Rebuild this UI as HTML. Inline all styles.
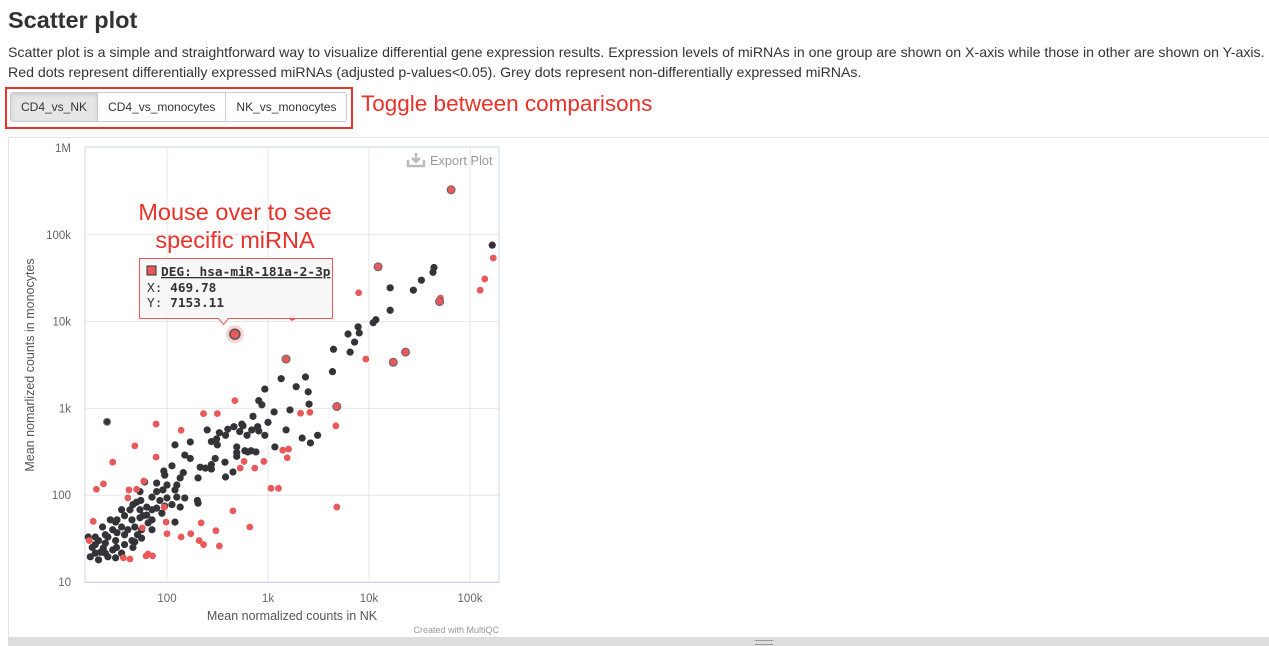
<!DOCTYPE html>
<html><head><meta charset="utf-8"><style>
body{margin:0;width:1269px;height:646px;overflow:hidden;background:#fff;font-family:"Liberation Sans",sans-serif;color:#333;position:relative}
.abs{position:absolute}
h1{position:absolute;left:8px;top:7px;margin:0;font-size:23.5px;font-weight:bold;color:#333}
p{position:absolute;left:8px;top:42px;margin:0;font-size:14.15px;line-height:20px;width:1262px;white-space:nowrap}
.btns{left:10px;top:92px;height:28px;display:flex;border:1px solid #ccc;border-radius:3px;overflow:hidden}
.btns div{font-size:12px;padding:0 10px;line-height:28px;border-right:1px solid #ccc;background:#fff}
.btns div:last-child{border-right:none}
.btns .on{background:#e6e6e6;box-shadow:inset 0 2px 4px rgba(0,0,0,.12)}
</style></head><body>
<h1>Scatter plot</h1>
<p>Scatter plot is a simple and straightforward way to visualize differential gene expression results. Expression levels of miRNAs in one group are shown on X-axis while those in other are shown on Y-axis.<br>Red dots represent differentially expressed miRNAs (adjusted p-values&lt;0.05). Grey dots represent non-differentially expressed miRNAs.</p>
<div class="abs" style="left:5px;top:87px;width:344px;height:38px;border:2px solid #e8322a"></div>
<div class="abs btns">
<div class="on">CD4_vs_NK</div>
<div>CD4_vs_monocytes</div>
<div>NK_vs_monocytes</div>
</div>
<div class="abs" style="left:361px;top:91px;font-size:22.5px;color:#e8322a">Toggle between comparisons</div>
<div class="abs" style="left:8px;top:137px;width:1261px;height:500px;border-left:1px solid #e3e3e3;border-top:1px solid #e3e3e3"></div>
<div class="abs" style="left:8px;top:637px;width:1261px;height:9px;background:#ddd"><div style="position:absolute;left:747px;top:3px;width:18px;height:3px;border-top:1px solid #999;border-bottom:1px solid #999"></div></div>
<svg class="abs" style="left:0;top:0" width="1269" height="646" id="chart" font-family="Liberation Sans, sans-serif"></svg>
<script>
const xTicks=[100,1000,10000,100000];
const xTickLabels=["100","1k","10k","100k"];
const yTicks=[10,100,1000,10000,100000,1000000];
const yTickLabels=["10","100","1k","10k","100k","1M"];
const degX=[65000,12300,170000,140000,126000,51000,50000,7900,1740,23000,17400,9300,1510,469.78,4800,4700,78,138,230,315,470,2100,2600,48,78,29,910,1400,1550,1600,530,580,740,1070,1270,20,23.5,42,41,59,50,450,660,4800,218,305,98,94,138,100,208,230,330,172,43,37,62,65,72,17,18.6,57];
const degY=[330000,42800,54000,31000,23000,18700,17000,21500,11200,4450,3400,3700,3700,7153.11,1050,630,660,560,870,870,1230,880,900,370,275,240,245,330,270,340,205,245,205,120,120,117,135,115,93,145,117,66,43,73,48,39,49,73,33,36,30,27,26,36,18.4,19,20,21,20,30,50,42];
const degOutlined=[0,1,6,9,10,12,14];
const nonX=[25.5,166000,43000,44000,33000,27500,16200,16200,11700,11000,7800,7200,6200,8000,6500,4450,4350,2500,2350,1350,930,1650,1900,1150,870,2550,810,620,790,550,710,460,380,275,680,810,400,310,250,120,170,300,275,490,590,1510,3100,2630,2180,330,315,490,490,630,760,375,450,380,525,565,690,930,1170,1000,213,240,275,203,170,150,112,145,93,95,135,125,100,79,91,120,85,60,79,54,55,71,100,125,150,200,95,112,135,203,120,71,71,63,65,56,48,58,54,45,38,35.5,41,38,32,31,29,26,24.5,23,24.5,21,19.5,18.2,19.5,22,24.5,29,31.6,35.5,38,45,51,17.4,21,26,31,16.6,19.5,23.4,54,48,43,50,32,31,27.5,46,35.5,63,79,89,71,56,46];
const nonY=[700,76000,37000,42000,30000,23000,24500,13500,10500,9700,8700,5800,7200,7400,4450,4800,2650,1550,2300,2200,1670,960,1780,910,1100,1120,550,490,615,660,810,615,490,415,325,1230,575,445,565,380,410,265,225,280,325,565,490,400,455,525,380,360,310,315,315,240,185,162,540,630,565,490,360,690,210,205,200,158,265,290,218,182,190,170,158,131,131,138,115,115,87,142,110,110,87,95,93,95,93,87,75,78,73,81,49,68,52,59,48,40,29,58,68,52,58,43,40,35,37,30,40,33,35,43,28,30,33,25,21.5,22,21.5,23.4,25,21.5,27,30,35,19.5,18,19.5,19,33,27,24.5,55,43,68,83,52,49,52,78,68,73,71,62,40,32,25];
const L=85,R=499,T=147,B=582;
function sx(v){return 167+(Math.log10(v)-2)*101;}
function sy(v){return 582-(Math.log10(v)-1)*86.8;}
const svg=document.getElementById('chart');const NS='http://www.w3.org/2000/svg';
function mk(tag,attrs,parent){const e=document.createElementNS(NS,tag);for(const k in attrs)e.setAttribute(k,attrs[k]);(parent||svg).appendChild(e);return e;}
const bg=mk('rect',{x:L,y:T,width:R-L,height:B-T,fill:'#fff',stroke:'#ccd6eb','stroke-width':1});


xTicks.forEach((v,i)=>{const x=sx(v);
const g=mk('line',{x1:x,x2:x,y1:T,y2:B,stroke:'#e6e6e6'});


const t=mk('text',{x:x,y:602,'text-anchor':'middle','font-size':11.5,fill:'#666'});t.textContent=xTickLabels[i];

});
yTicks.forEach((v,i)=>{const y=sy(v);
if(i>0&&i<yTicks.length-1){const g=mk('line',{x1:L,x2:R,y1:y,y2:y,stroke:'#e6e6e6'});

}
const t=mk('text',{x:71,y:y+4,'text-anchor':'end','font-size':11.5,fill:'#666'});t.textContent=yTickLabels[i];

});
mk('line',{x1:L,x2:R,y1:B+0.5,y2:B+0.5,stroke:'#ccd6eb'});
nonX.forEach((v,i)=>{const c=mk('circle',{cx:sx(v),cy:sy(nonY[i]),r:3.6,fill:'#333338',stroke:i==0?'#888':'none'});

});
degX.forEach((v,i)=>{const o=degOutlined.includes(i);const c=mk('circle',{cx:sx(v),cy:sy(degY[i]),r:o?4:3.4,fill:'#e9585b',stroke:o?'#666':'none','stroke-width':1});

});
const hx=sx(degX[13]),hy=sy(degY[13]);
mk('circle',{cx:hx,cy:hy,r:9,fill:'rgba(233,88,91,0.25)'});
const hp=mk('circle',{cx:hx,cy:hy,r:5,fill:'#e9585b',stroke:'#555','stroke-width':1.5});


const xt=mk('text',{x:292,y:620,'text-anchor':'middle','font-size':12.5,fill:'#555'});xt.textContent='Mean normalized counts in NK';


const yt=mk('text',{x:0,y:0,'text-anchor':'middle','font-size':12.5,fill:'#555',transform:'translate(34,365) rotate(-90)'});yt.textContent='Mean nomarlized counts in monocytes';


const cr=mk('text',{x:499,y:633,'text-anchor':'end','font-size':9,fill:'#999'});cr.textContent='Created with MultiQC';


const ex=mk('g',{});

mk('path',{d:'M408,160 v6 h16 v-6 M416,153 v8 M412,158 l4,4 l4,-4',stroke:'#bbb','stroke-width':2.5,fill:'none'},ex);
const et=mk('text',{x:430,y:165,'font-size':12.8,fill:'#999'},ex);et.textContent='Export Plot';
const a1=mk('text',{x:235,y:220,'text-anchor':'middle','font-size':23.5,fill:'#e8322a'});a1.textContent='Mouse over to see';


const a2=mk('text',{x:235,y:248,'text-anchor':'middle','font-size':23.5,fill:'#e8322a'});a2.textContent='specific miRNA';
const tg=mk('g',{});

mk('path',{d:'M139.5,258.5 h193 v60 h-104 l-5,6 l-5,-6 h-79 z',fill:'rgba(247,247,247,0.95)',stroke:'#e9585b','stroke-width':1},tg);
mk('rect',{x:147,y:266,width:9,height:9,fill:'#e9585b',stroke:'#333'},tg);
const t1=mk('text',{x:161,y:276,'font-size':12.8,'font-weight':'bold',fill:'#333','font-family':'DejaVu Sans Mono, monospace','text-decoration':'underline'},tg);t1.textContent='DEG: hsa-miR-181a-2-3p';
const t2=mk('text',{x:147,y:292,'font-size':12.8,fill:'#333','font-family':'DejaVu Sans Mono, monospace'},tg);t2.innerHTML='X: <tspan font-weight="bold">469.78</tspan>';
const t3=mk('text',{x:147,y:307,'font-size':12.8,fill:'#333','font-family':'DejaVu Sans Mono, monospace'},tg);t3.innerHTML='Y: <tspan font-weight="bold">7153.11</tspan>';
</script>
</body></html>
